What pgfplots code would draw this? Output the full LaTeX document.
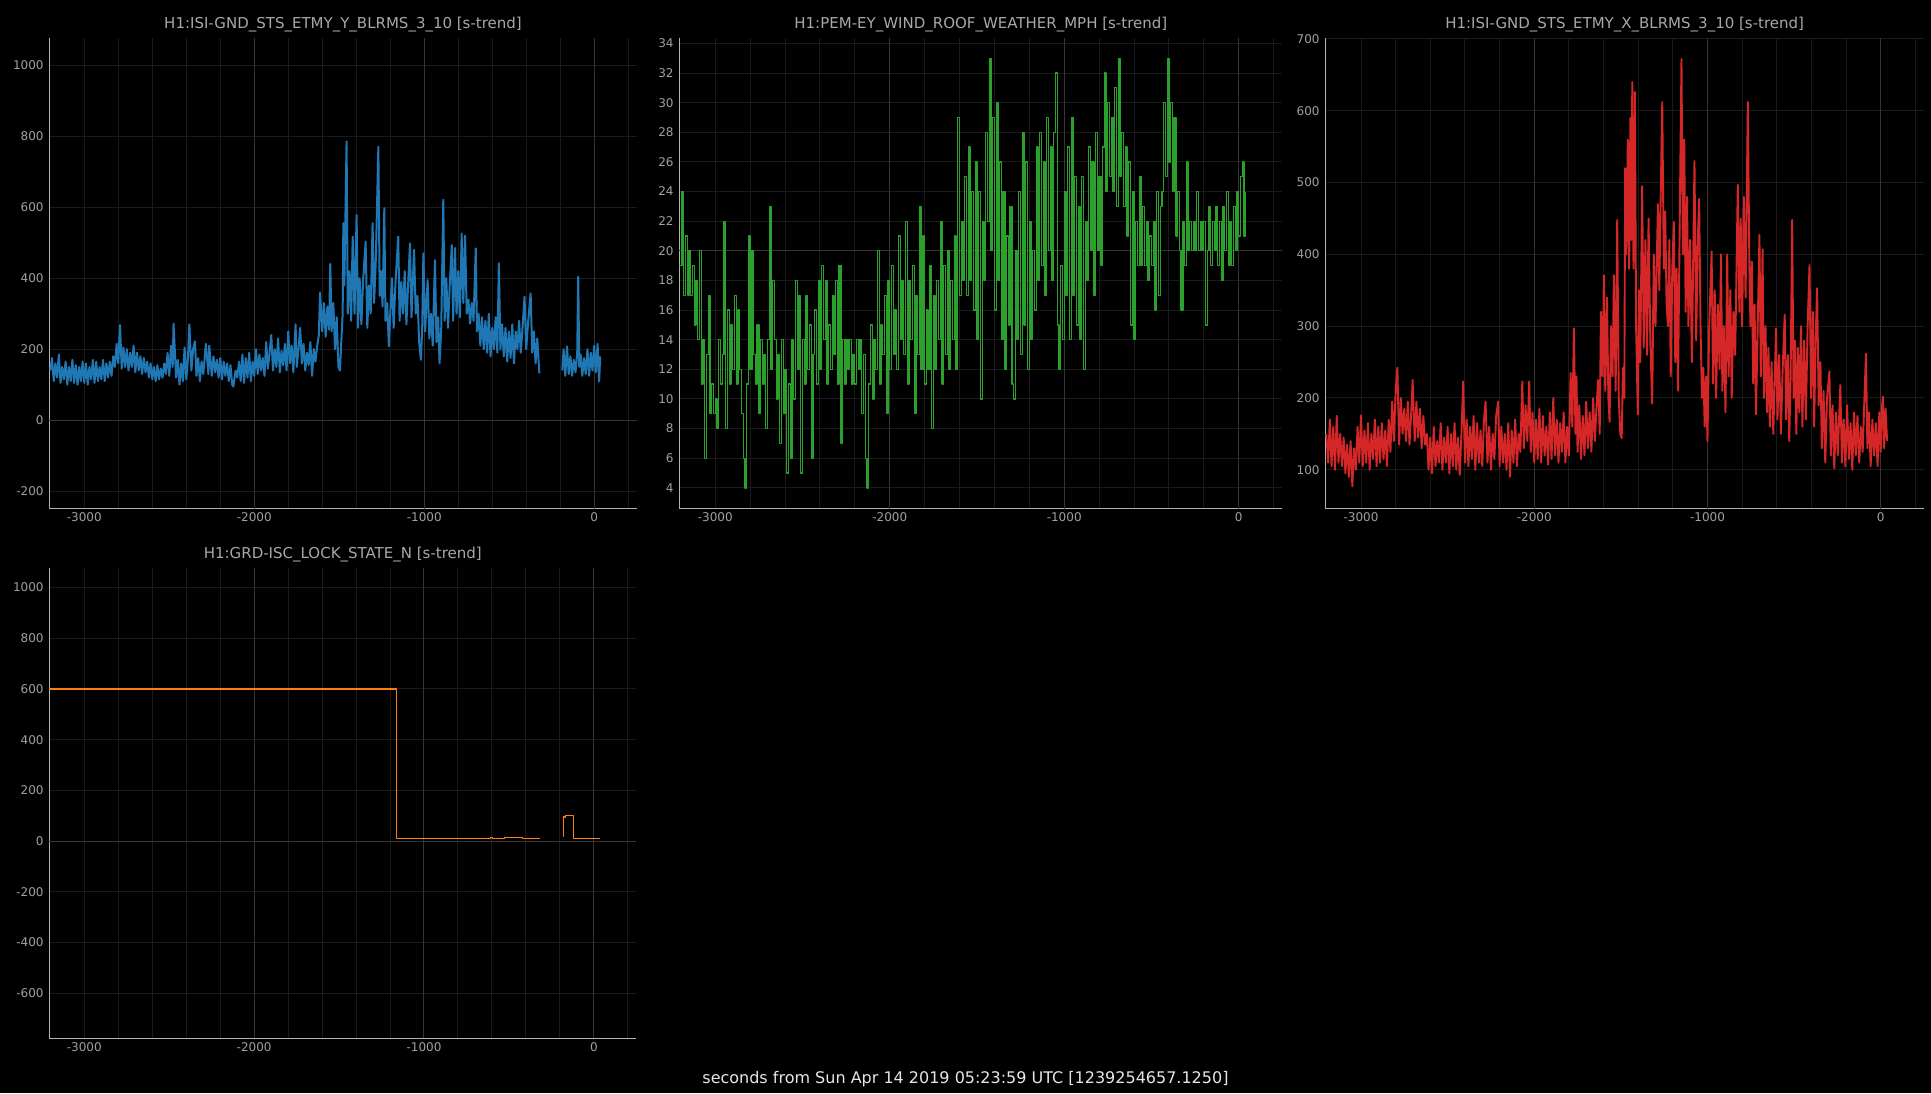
\documentclass[border=0pt]{standalone}
\usepackage{pgfplots}
\pgfplotsset{compat=1.18}
\usepackage{fontspec}
\setmainfont{DejaVu Sans}
\definecolor{gwblue}{HTML}{1F77B4}
\definecolor{gwgreen}{HTML}{2CA02C}
\definecolor{gwred}{HTML}{D62728}
\definecolor{gworange}{HTML}{FF7F0E}
\definecolor{gridc}{HTML}{1A1A1A}
\definecolor{gridb}{HTML}{353535}
\definecolor{axc}{HTML}{B3B3B3}
\definecolor{tickc}{HTML}{A0A0A0}
\definecolor{titc}{HTML}{A8A8A8}
\definecolor{footc}{HTML}{E6E6E6}
\pgfplotsset{gw/.style={
  scale only axis,
  axis x line*=bottom, axis y line*=left,
  axis line style={axc, line width=1.3pt, -},
  every outer x axis line/.append style={-},
  every outer y axis line/.append style={-},
  major tick length=0pt, minor tick length=0pt,
  grid=both,
  major grid style={gridc, line width=1pt},
  minor grid style={gridc, line width=1pt},
  tick label style={font=\fontsize{12}{14}\selectfont, color=tickc},
  xticklabel style={anchor=north, inner sep=0pt, yshift=-4pt},
  yticklabel style={anchor=east, inner sep=0pt, xshift=-5.5pt},
  /pgf/number format/assume math mode=true,
  /pgf/number format/1000 sep={},
  scaled ticks=false,
  title style={font=\fontsize{15}{18}\selectfont, color=titc, anchor=center, yshift=7.4pt, inner sep=0pt},
  xmin=-3206, xmax=250,
  xtick={-3000,-2000,-1000,0},
  minor xtick={-2800,-2600,-2400,-2200,-1800,-1600,-1400,-1200,-800,-600,-400,-200,200},
  extra x ticks={-2000,-1000,0}, extra x tick labels={},
  extra x tick style={grid=major, major grid style={gridb, line width=1pt}},
  line join=round,
}}
\begin{document}
\begin{tikzpicture}
\fill[black] (0pt,0pt) rectangle (1931pt,1093pt);
\path[use as bounding box] (0pt,0pt) rectangle (1931pt,1093pt);

% ---------- panel 1 ----------
\begin{axis}[gw, at={(49.3pt,584.4pt)}, anchor=south west, width=587.4pt, height=470.4pt,
  ymin=-249, ymax=1076, ytick={-200,0,200,400,600,800,1000},
  extra y ticks={0}, extra y tick labels={},
  extra y tick style={grid=major, major grid style={gridb, line width=1pt}},
  title={H1:ISI-GND\_STS\_ETMY\_Y\_BLRMS\_3\_10 [s-trend]}]
\addplot[gwblue, line width=2pt, no markers] coordinates {
(-3200,140)(-3190,175)(-3180,110)(-3170,160)(-3160,120)(-3150,185)(-3140,105)(-3130,150)(-3120,115)(-3110,165)
(-3100,100)(-3090,150)(-3080,110)(-3070,170)(-3060,105)(-3050,155)(-3040,100)(-3030,150)(-3020,110)(-3010,165)
(-3000,105)(-2990,160)(-2980,100)(-2970,150)(-2960,115)(-2950,170)(-2940,105)(-2930,165)(-2920,110)(-2910,150)
(-2900,115)(-2890,170)(-2880,110)(-2870,160)(-2860,120)(-2850,165)(-2840,125)(-2830,180)(-2820,150)(-2810,215)
(-2800,160)(-2790,268)(-2780,145)(-2770,205)(-2760,150)(-2750,200)(-2740,140)(-2730,190)(-2720,150)(-2710,210)
(-2700,135)(-2690,190)(-2680,140)(-2670,180)(-2660,130)(-2650,175)(-2640,135)(-2630,165)(-2620,120)(-2610,160)
(-2600,115)(-2590,150)(-2580,110)(-2570,155)(-2560,115)(-2550,145)(-2540,120)(-2530,160)(-2520,130)(-2510,190)
(-2500,125)(-2490,210)(-2480,150)(-2475,272)(-2460,120)(-2450,170)(-2440,100)(-2430,160)(-2420,110)(-2410,205)
(-2400,115)(-2390,175)(-2382,270)(-2370,140)(-2360,200)(-2349,222)(-2340,125)(-2330,175)(-2320,110)(-2310,165)
(-2300,130)(-2290,185)(-2285,215)(-2270,130)(-2265,210)(-2250,125)(-2240,180)(-2230,135)(-2220,170)(-2210,120)
(-2200,175)(-2190,115)(-2180,165)(-2170,125)(-2160,160)(-2150,110)(-2140,155)(-2130,100)(-2123,95)(-2110,140)
(-2100,120)(-2090,165)(-2080,110)(-2070,185)(-2060,105)(-2050,175)(-2040,120)(-2030,190)(-2020,110)(-2010,165)
(-2000,125)(-1990,200)(-1980,130)(-1970,185)(-1960,140)(-1950,175)(-1940,125)(-1930,220)(-1920,145)(-1910,190)
(-1900,240)(-1890,140)(-1880,200)(-1870,150)(-1860,230)(-1850,135)(-1840,195)(-1830,155)(-1820,215)(-1810,140)
(-1800,250)(-1790,160)(-1780,210)(-1770,135)(-1757,270)(-1750,150)(-1740,200)(-1730,260)(-1720,160)(-1710,215)
(-1700,140)(-1690,190)(-1680,155)(-1670,220)(-1660,125)(-1650,200)(-1640,165)(-1630,210)(-1620,240)(-1613,360)
(-1600,250)(-1590,330)(-1580,235)(-1570,320)(-1560,255)(-1553,440)(-1545,250)(-1535,330)(-1525,200)(-1515,290)
(-1505,150)(-1496,140)(-1490,200)(-1480,300)(-1476,555)(-1470,380)(-1457,785)(-1450,300)(-1440,420)(-1430,280)
(-1421,517)(-1410,300)(-1398,578)(-1390,260)(-1380,400)(-1370,270)(-1360,390)(-1345,503)(-1335,260)(-1325,380)
(-1315,300)(-1304,555)(-1295,330)(-1285,450)(-1270,770)(-1262,350)(-1255,420)(-1245,320)(-1235,597)(-1228,280)
(-1218,330)(-1208,208)(-1200,300)(-1190,400)(-1180,260)(-1170,380)(-1153,517)(-1145,280)(-1135,390)(-1125,300)
(-1115,420)(-1105,270)(-1095,380)(-1084,498)(-1075,290)(-1060,480)(-1050,300)(-1040,350)(-1030,220)(-1020,170)
(-1012,260)(-1005,470)(-995,250)(-980,395)(-970,230)(-960,300)(-950,210)(-937,451)(-928,220)(-918,290)
(-910,160)(-900,260)(-888,621)(-880,280)(-870,400)(-860,260)(-850,380)(-838,493)(-830,280)(-819,485)
(-810,300)(-800,420)(-790,290)(-780,526)(-770,330)(-760,520)(-750,300)(-740,340)(-730,272)(-720,330)
(-710,280)(-697,484)(-690,250)(-680,300)(-670,210)(-660,290)(-650,200)(-640,280)(-630,190)(-620,300)
(-610,180)(-600,260)(-590,200)(-580,290)(-570,190)(-561,442)(-552,200)(-542,270)(-532,180)(-522,260)
(-512,165)(-502,250)(-492,175)(-482,270)(-472,160)(-462,250)(-452,200)(-442,280)(-432,190)(-422,260)
(-410,348)(-400,200)(-390,270)(-374,357)(-365,190)(-355,250)(-345,160)(-335,230)(-323,132)
};
\addplot[gwblue, line width=2pt, no markers] coordinates {
(-188,140)(-180,200)(-170,125)(-160,208)(-150,130)(-140,180)(-130,125)(-120,170)(-110,135)(-100,190)
(-94,404)(-88,150)(-80,185)(-70,125)(-60,175)(-50,130)(-40,200)(-30,125)(-20,190)(-10,140)
(0,210)(10,135)(20,215)(29,109)(35,180)
};
\end{axis}

% ---------- panel 2 ----------
\begin{axis}[gw, at={(679.3pt,584.4pt)}, anchor=south west, width=603pt, height=470.4pt,
  ymin=2.6, ymax=34.35, ytick={4,6,...,34},
  extra y ticks={20}, extra y tick labels={},
  extra y tick style={grid=major, major grid style={gridb, line width=1pt}},
  title={H1:PEM-EY\_WIND\_ROOF\_WEATHER\_MPH [s-trend]}]
\addplot[gwgreen, line width=1.3pt, no markers, const plot] coordinates {
(-3206,19)(-3200,19)(-3190,24)(-3180,17)(-3170,21)(-3160,17)(-3150,20)(-3140,17)(-3130,19)(-3120,15)(-3110,18)
(-3100,14)(-3090,20)(-3080,11)(-3070,14)(-3060,6)(-3050,13)(-3040,17)(-3030,9)(-3020,11)(-3010,9)
(-3000,10)(-2990,8)(-2980,14)(-2970,11)(-2960,13)(-2950,22)(-2940,8)(-2930,16)(-2920,11)(-2910,15)
(-2900,12)(-2890,17)(-2880,11)(-2870,16)(-2860,12)(-2850,9)(-2840,6)(-2830,4)(-2820,11)(-2810,21)
(-2800,12)(-2790,20)(-2780,13)(-2770,11)(-2760,15)(-2750,9)(-2740,14)(-2730,11)(-2720,13)(-2710,8)
(-2700,14)(-2690,23)(-2680,12)(-2670,18)(-2660,14)(-2650,10)(-2640,13)(-2630,7)(-2620,14)(-2610,9)
(-2600,12)(-2590,5)(-2580,11)(-2570,6)(-2560,14)(-2550,10)(-2540,18)(-2530,12)(-2520,17)(-2510,5)
(-2500,14)(-2490,11)(-2480,17)(-2470,12)(-2460,15)(-2450,6)(-2440,13)(-2430,16)(-2420,11)(-2410,18)
(-2400,12)(-2390,19)(-2380,14)(-2370,18)(-2360,11)(-2350,15)(-2340,12)(-2330,17)(-2320,13)(-2310,18)
(-2300,11)(-2290,19)(-2280,7)(-2270,14)(-2260,11)(-2250,14)(-2240,12)(-2230,14)(-2220,11)(-2210,13)
(-2200,11)(-2190,14)(-2180,12)(-2170,14)(-2160,9)(-2150,13)(-2140,6)(-2130,4)(-2120,11)(-2110,15)
(-2100,10)(-2090,14)(-2080,12)(-2070,20)(-2060,11)(-2050,15)(-2040,13)(-2030,17)(-2020,9)(-2010,18)
(-2000,12)(-1990,19)(-1980,13)(-1970,16)(-1960,12)(-1950,21)(-1940,14)(-1930,18)(-1920,13)(-1910,22)
(-1900,11)(-1890,18)(-1880,14)(-1870,19)(-1860,9)(-1850,17)(-1840,13)(-1830,23)(-1820,12)(-1810,21)
(-1800,11)(-1790,16)(-1780,12)(-1770,19)(-1760,8)(-1750,17)(-1740,12)(-1730,18)(-1720,14)(-1710,22)
(-1700,11)(-1690,19)(-1680,13)(-1670,20)(-1660,12)(-1650,18)(-1640,14)(-1630,21)(-1620,12)(-1610,29)
(-1600,17)(-1590,22)(-1580,18)(-1570,25)(-1560,17)(-1550,27)(-1540,18)(-1530,24)(-1520,16)(-1510,26)
(-1500,14)(-1490,24)(-1480,10)(-1470,22)(-1460,18)(-1450,28)(-1440,22)(-1430,33)(-1420,20)(-1410,29)
(-1400,16)(-1390,30)(-1380,18)(-1370,26)(-1360,14)(-1350,24)(-1340,12)(-1330,21)(-1320,15)(-1310,23)
(-1300,11)(-1290,10)(-1280,20)(-1270,14)(-1260,24)(-1250,13)(-1240,28)(-1230,15)(-1220,26)(-1210,12)
(-1200,22)(-1190,14)(-1180,20)(-1170,16)(-1160,27)(-1150,18)(-1140,28)(-1130,19)(-1120,26)(-1110,17)
(-1100,29)(-1090,20)(-1080,27)(-1070,18)(-1060,28)(-1050,32)(-1040,15)(-1030,12)(-1020,19)(-1010,14)
(-1000,24)(-990,17)(-980,27)(-970,14)(-960,29)(-950,17)(-940,25)(-930,15)(-920,23)(-910,14)
(-900,25)(-890,12)(-880,22)(-870,18)(-860,27)(-850,20)(-840,26)(-830,17)(-820,28)(-810,20)
(-800,25)(-790,19)(-780,27)(-770,32)(-760,24)(-750,30)(-740,25)(-730,29)(-720,24)(-710,31)
(-700,23)(-690,33)(-680,25)(-670,28)(-660,23)(-650,27)(-640,21)(-630,26)(-620,15)(-610,24)
(-600,14)(-590,22)(-580,19)(-570,25)(-560,19)(-550,23)(-540,19)(-530,22)(-520,18)(-510,21)
(-500,19)(-490,22)(-480,16)(-470,24)(-460,17)(-450,23)(-440,24)(-430,30)(-420,25)(-410,33)
(-400,26)(-390,30)(-380,24)(-370,29)(-360,21)(-350,24)(-340,20)(-330,16)(-320,22)(-310,19)
(-300,26)(-290,20)(-280,22)(-270,20)(-260,22)(-250,20)(-240,24)(-230,20)(-220,22)(-210,20)
(-200,22)(-190,15)(-180,20)(-170,23)(-160,19)(-150,22)(-140,20)(-130,23)(-120,19)(-110,22)
(-100,18)(-90,23)(-80,20)(-70,24)(-60,19)(-50,22)(-40,19)(-30,23)(-20,20)(-10,24)
(0,21)(10,25)(20,26)(30,21)(38,24)
};
\end{axis}

% ---------- panel 3 ----------
\begin{axis}[gw, at={(1325.3pt,584.4pt)}, anchor=south west, width=598.7pt, height=470.4pt,
  ymin=46, ymax=701, ytick={100,200,...,700},
  title={H1:ISI-GND\_STS\_ETMY\_X\_BLRMS\_3\_10 [s-trend]}]
\addplot[gwred, line width=1.9pt, no markers] coordinates {
(-3200,150)(-3190,110)(-3180,170)(-3170,105)(-3160,160)(-3150,100)(-3140,175)(-3130,110)(-3120,150)(-3110,105)
(-3100,145)(-3090,95)(-3080,135)(-3070,90)(-3060,140)(-3050,77)(-3040,130)(-3030,100)(-3020,160)(-3010,110)
(-3000,176)(-2990,105)(-2980,155)(-2970,110)(-2960,165)(-2950,100)(-2940,150)(-2930,115)(-2920,170)(-2910,105)
(-2900,160)(-2890,110)(-2880,165)(-2870,115)(-2860,155)(-2850,105)(-2840,170)(-2830,125)(-2820,195)(-2810,140)
(-2800,210)(-2790,242)(-2780,135)(-2770,200)(-2760,150)(-2750,185)(-2740,140)(-2730,195)(-2720,135)(-2710,180)
(-2702,225)(-2690,140)(-2680,195)(-2670,145)(-2660,185)(-2650,130)(-2640,175)(-2630,135)(-2620,150)(-2610,100)
(-2600,145)(-2590,95)(-2580,160)(-2570,105)(-2560,140)(-2550,110)(-2540,165)(-2530,100)(-2520,145)(-2510,110)
(-2500,160)(-2490,95)(-2480,150)(-2470,105)(-2460,165)(-2450,100)(-2440,145)(-2430,93)(-2420,150)(-2410,223)
(-2400,110)(-2390,170)(-2380,105)(-2370,160)(-2360,115)(-2350,175)(-2340,100)(-2330,165)(-2320,110)(-2310,155)
(-2300,105)(-2290,170)(-2281,195)(-2270,110)(-2260,160)(-2250,100)(-2240,150)(-2230,115)(-2220,175)(-2208,195)
(-2200,105)(-2190,160)(-2180,110)(-2170,150)(-2160,100)(-2150,165)(-2140,90)(-2130,155)(-2120,110)(-2110,170)
(-2100,105)(-2090,150)(-2080,125)(-2069,223)(-2060,130)(-2050,190)(-2040,140)(-2029,223)(-2020,125)(-2010,180)
(-2000,110)(-1990,170)(-1980,115)(-1970,185)(-1960,110)(-1950,175)(-1940,120)(-1930,160)(-1920,107)(-1910,180)
(-1900,115)(-1890,200)(-1880,120)(-1870,170)(-1860,110)(-1850,165)(-1840,125)(-1830,180)(-1820,110)(-1810,160)
(-1800,120)(-1790,235)(-1780,160)(-1771,297)(-1762,150)(-1756,230)(-1750,125)(-1740,190)(-1730,115)(-1720,175)
(-1710,120)(-1700,195)(-1690,130)(-1680,180)(-1670,125)(-1660,200)(-1650,140)(-1640,190)(-1631,225)(-1622,150)
(-1615,320)(-1605,230)(-1598,371)(-1590,210)(-1580,340)(-1572,200)(-1565,167)(-1557,300)(-1548,230)(-1540,371)
(-1530,210)(-1521,448)(-1512,200)(-1503,150)(-1495,144)(-1488,242)(-1480,200)(-1475,520)(-1468,400)(-1460,560)
(-1452,380)(-1445,590)(-1440,420)(-1434,640)(-1427,380)(-1419,626)(-1412,300)(-1402,177)(-1395,350)(-1388,250)
(-1377,495)(-1368,270)(-1358,420)(-1349,260)(-1340,450)(-1330,280)(-1319,192)(-1310,400)(-1300,300)(-1286,470)
(-1278,350)(-1270,480)(-1261,612)(-1252,380)(-1244,460)(-1236,330)(-1228,300)(-1220,420)(-1212,230)(-1203,380)
(-1194,445)(-1186,250)(-1178,380)(-1170,210)(-1160,450)(-1150,672)(-1142,400)(-1134,560)(-1126,320)(-1118,480)
(-1110,300)(-1100,420)(-1090,250)(-1075,530)(-1065,280)(-1056,420)(-1048,477)(-1040,300)(-1032,200)(-1024,242)
(-1016,160)(-1008,230)(-1000,140)(-990,300)(-976,404)(-968,220)(-958,350)(-950,200)(-940,330)(-930,240)
(-922,400)(-914,210)(-906,300)(-896,180)(-886,400)(-878,230)(-868,350)(-860,200)(-850,320)(-840,260)
(-825,497)(-816,320)(-808,450)(-800,300)(-790,480)(-780,340)(-767,612)(-758,380)(-752,300)(-744,390)
(-736,220)(-728,330)(-720,177)(-710,300)(-700,427)(-692,230)(-682,407)(-674,200)(-665,300)(-656,180)
(-648,270)(-640,160)(-630,250)(-620,150)(-604,297)(-596,170)(-586,260)(-576,150)(-566,240)(-554,316)
(-546,170)(-536,260)(-528,140)(-520,230)(-511,448)(-503,200)(-495,280)(-487,150)(-478,270)(-470,180)
(-460,300)(-452,160)(-442,280)(-432,170)(-422,300)(-411,385)(-402,200)(-392,320)(-384,160)(-376,280)
(-367,353)(-358,190)(-348,250)(-340,130)(-330,210)(-320,110)(-310,200)(-296,237)(-288,120)(-278,190)
(-268,102)(-258,180)(-248,120)(-233,218)(-224,110)(-214,170)(-204,105)(-194,190)(-184,115)(-174,165)
(-164,100)(-154,180)(-144,120)(-134,175)(-124,110)(-114,160)(-104,125)(-94,200)(-85,262)(-77,130)
(-68,180)(-58,105)(-48,170)(-38,120)(-28,165)(-18,105)(-8,180)(0,125)(8,190)(13,202)
(20,130)(28,185)(37,140)
};
\end{axis}

% ---------- panel 4 ----------
\begin{axis}[gw, at={(49.3pt,54.8pt)}, anchor=south west, width=587pt, height=470.5pt,
  ymin=-777, ymax=1078, ytick={-600,-400,...,1000},
  extra y ticks={0}, extra y tick labels={},
  extra y tick style={grid=major, major grid style={gridb, line width=1pt}},
  title={H1:GRD-ISC\_LOCK\_STATE\_N [s-trend]}]
\addplot[gworange, line width=1.3pt, no markers, const plot] coordinates {
(-3206,600)(-1160,10)(-607,15)(-595,10)(-526,15)(-421,10)(-317,10)
};
\addplot[gworange, line width=1.3pt, no markers, const plot] coordinates {
(-181,20)(-178,95)(-166,100)(-119,10)(37,10)
};
\end{axis}

\node[font=\fontsize{16}{19}\selectfont, color=footc, inner sep=0pt] at (965.5pt,14.2pt)
  {seconds from Sun Apr 14 2019 05:23:59 UTC [1239254657.1250]};
\end{tikzpicture}
\end{document}
